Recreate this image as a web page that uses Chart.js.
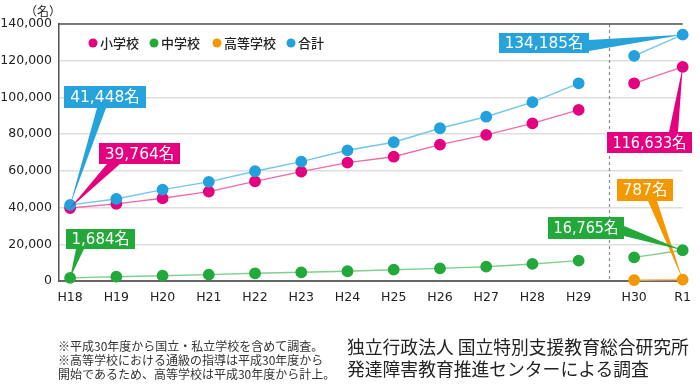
<!DOCTYPE html>
<html>
<head>
<meta charset="utf-8">
<script src="https://cdn.jsdelivr.net/npm/chart.js@4/dist/chart.umd.min.js"></script>
<style>
  body { margin: 0; background: #fff; }
  #wrap { position: relative; width: 700px; height: 384px; overflow: hidden; }
  canvas { position: absolute; left: 0; top: 0; }
  .note { position: absolute; left: 58px; font-family: "Noto Sans CJK JP", sans-serif; font-size: 12px; color: #333; line-height: 14px; white-space: nowrap; }
  .src { position: absolute; left: 347px; font-family: "Noto Sans CJK JP", sans-serif; font-size: 17.8px; color: #222; line-height: 22px; white-space: nowrap; }
</style>
</head>
<body>
<div id="wrap">
  <canvas id="chart" width="700" height="384"></canvas>
  <div class="note" style="top:339px">※平成30年度から国立・私立学校を含めて調査。</div>
  <div class="note" style="top:353px">※高等学校における通級の指導は平成30年度から</div>
  <div class="note" style="top:367px">開始であるため、高等学校は平成30年度から計上。</div>
  <div class="src" style="top:335px">独立行政法人 国立特別支援教育総合研究所</div>
  <div class="src" style="top:357px">発達障害教育推進センターによる調査</div>
</div>
<script>
// data
var xLabels = ["H18", "H19", "H20", "H21", "H22", "H23", "H24", "H25", "H26", "H27", "H28", "H29", "H30", "R1"];
var xPos = [0, 1, 2, 3, 4, 5, 6, 7, 8, 9, 10, 11, 12.2, 13.25];
var dividerX = 11.66;

var elementary = [39764, 42000, 45100, 48700, 54300, 59600, 64500, 67700, 74300, 79600, 85900, 93200, 107700, 116633];
var juniorHigh = [1684, 2350, 2900, 3450, 4200, 4740, 5300, 6160, 6900, 7800, 9300, 11100, 12900, 16765];
var highSchool = [null, null, null, null, null, null, null, null, null, null, null, null, 510, 787];
var total = [41448, 44700, 49800, 54000, 59800, 65000, 71200, 75600, 83200, 89500, 97400, 107700, 122600, 134185];

var yTicks = [0, 20000, 40000, 60000, 80000, 100000, 120000, 140000];

var colors = {
  elementary: { point: "#e4007f", line: "#ef6aab" },
  juniorHigh: { point: "#22a93a", line: "#80cf8c" },
  highSchool: { point: "#f39800", line: "#f8c072" },
  total: { point: "#22a1dc", line: "#72c6ee" }
};

var legendItems = [
  { label: "小学校", color: colors.elementary.point, x: 93 },
  { label: "中学校", color: colors.juniorHigh.point, x: 154 },
  { label: "高等学校", color: colors.highSchool.point, x: 217 },
  { label: "合計", color: colors.total.point, x: 291 }
];

// callouts: box layout in pixels, tip taken from the data point
var callouts = [
  { ds: 0, idx: 0, text: "41,448名", color: "#27a3dc", box: [64, 86, 82, 22], base: [[97, 108], [106, 108]] },
  { ds: 1, idx: 0, text: "39,764名", color: "#e4007f", box: [99, 143, 81, 21], base: [[107, 164], [120, 164]] },
  { ds: 2, idx: 0, text: "1,684名", color: "#22a93a", box: [66, 229, 69, 20], base: [[76, 249], [84, 249]] },
  { ds: 0, idx: 13, text: "134,185名", color: "#27a3dc", box: [499, 33, 90, 20], base: [[589, 40], [589, 51]] },
  { ds: 1, idx: 13, text: "116,633名", color: "#e4007f", box: [607, 132, 85, 21], base: [[669, 132], [678, 132]] },
  { ds: 3, idx: 13, text: "787名", color: "#f39800", box: [617, 179, 56, 22], base: [[648, 201], [657, 201]] },
  { ds: 2, idx: 13, text: "16,765名", color: "#22a93a", box: [548, 217, 76, 22], base: [[624, 226], [624, 236]] }
];

var font = "'Noto Sans CJK JP', 'Noto Sans', sans-serif";
var numFont = "'DejaVu Sans', 'Noto Sans CJK JP', sans-serif";

function makeSet(values, c) {
  return {
    data: xPos.map(function(x, i) { return { x: x, y: values[i] }; }),
    borderColor: c.line,
    backgroundColor: c.point,
    pointBackgroundColor: c.point,
    pointBorderColor: c.point,
    pointRadius: 5.2,
    pointHoverRadius: 5.2,
    borderWidth: 1.4,
    tension: 0,
    clip: false,
    segment: {
      borderColor: function(ctx) { return ctx.p0DataIndex === 11 ? "rgba(0,0,0,0)" : c.line; }
    }
  };
}

var extras = {
  id: "extras",
  beforeDatasetsDraw: function(chart) {
    var ctx = chart.ctx, area = chart.chartArea;
    var xs = chart.scales.x;
    ctx.save();
    // dotted divider
    var dx = Math.round(xs.getPixelForValue(dividerX)) + 0.5;
    ctx.strokeStyle = "#8a8a8a";
    ctx.lineWidth = 1.2;
    ctx.setLineDash([3, 3]);
    ctx.beginPath();
    ctx.moveTo(dx, area.top);
    ctx.lineTo(dx, area.bottom);
    ctx.stroke();
    ctx.setLineDash([]);
    // top frame line
    ctx.strokeStyle = "#555";
    ctx.lineWidth = 1.5;
    ctx.beginPath();
    ctx.moveTo(area.left, area.top);
    ctx.lineTo(area.right, area.top);
    ctx.stroke();
    // unit label
    ctx.fillStyle = "#222";
    ctx.font = "12px " + font;
    ctx.textBaseline = "middle";
    ctx.fillText("（名）", 25, 11);
    // legend
    ctx.font = "500 13px " + font;
    legendItems.forEach(function(it) {
      ctx.fillStyle = it.color;
      ctx.beginPath();
      ctx.arc(it.x, 43, 4.5, 0, Math.PI * 2);
      ctx.fill();
      ctx.fillStyle = "#222";
      ctx.fillText(it.label, it.x + 7, 43);
    });
    ctx.restore();
  },
  afterDatasetsDraw: function(chart) {
    var ctx = chart.ctx;
    ctx.save();
    callouts.forEach(function(c) {
      var pt = chart.getDatasetMeta(c.ds).data[c.idx];
      ctx.fillStyle = c.color;
      ctx.beginPath();
      ctx.moveTo(c.base[0][0], c.base[0][1]);
      ctx.lineTo(pt.x, pt.y);
      ctx.lineTo(c.base[1][0], c.base[1][1]);
      ctx.closePath();
      ctx.fill();
      ctx.fillRect(c.box[0], c.box[1], c.box[2], c.box[3]);
      // label, squeezed to fit the box
      ctx.fillStyle = "#fff";
      ctx.font = "15.5px " + numFont;
      ctx.textAlign = "center";
      ctx.textBaseline = "middle";
      var w = ctx.measureText(c.text).width;
      var sx = Math.min(1, (c.box[2] - 11) / w);
      ctx.save();
      ctx.translate(c.box[0] + c.box[2] / 2, c.box[1] + c.box[3] / 2 + 1);
      ctx.scale(sx, 1);
      ctx.fillText(c.text, 0, 0);
      ctx.restore();
    });
    ctx.restore();
  }
};

new Chart(document.getElementById("chart").getContext("2d"), {
  type: "line",
  data: {
    datasets: [
      makeSet(total, colors.total),
      makeSet(elementary, colors.elementary),
      makeSet(juniorHigh, colors.juniorHigh),
      makeSet(highSchool, colors.highSchool)
    ]
  },
  options: {
    responsive: false,
    animation: false,
    layout: { padding: { left: 0, top: 24, right: 17, bottom: 73 } },
    plugins: { legend: { display: false }, tooltip: { enabled: false } },
    scales: {
      x: {
        type: "linear",
        min: -0.24,
        max: 13.25,
        afterBuildTicks: function(scale) {
          scale.ticks = xPos.map(function(v) { return { value: v }; });
        },
        afterFit: function(scale) { scale.height = 30; },
        grid: { display: false, drawTicks: false },
        border: { display: true, color: "#666", width: 2 },
        ticks: {
          autoSkip: false,
          maxRotation: 0,
          padding: 9,
          color: "#222",
          font: { family: numFont, size: 12.5 },
          callback: function(v, i) { return xLabels[i]; }
        }
      },
      y: {
        min: 0,
        max: 140000,
        afterBuildTicks: function(scale) {
          scale.ticks = yTicks.map(function(v) { return { value: v }; });
        },
        afterFit: function(scale) { scale.width = 59; },
        grid: { color: "#dedede", lineWidth: 1.5, drawTicks: false },
        border: { display: true, color: "#555", width: 1.5 },
        ticks: {
          padding: 7,
          color: "#222",
          font: { family: numFont, size: 12.5 },
          callback: function(v) { return v.toLocaleString("en-US"); }
        }
      }
    }
  },
  plugins: [extras]
});
</script>
</body>
</html>
